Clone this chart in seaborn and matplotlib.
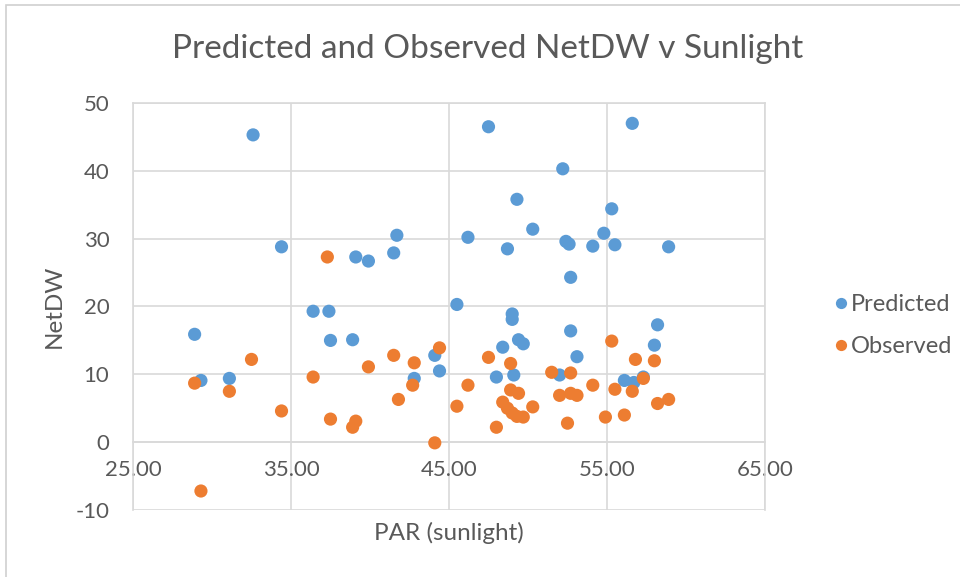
import matplotlib
matplotlib.use("Agg")
import matplotlib.pyplot as plt
import seaborn as sns
import pandas as pd
from matplotlib.patches import Rectangle

# ---- data ----
pred_par = [28.9, 29.3, 31.1, 32.6, 34.4, 36.4, 37.4, 37.5, 38.9, 39.1, 39.9, 41.5, 41.7,
            42.8, 44.1, 44.4, 45.5, 46.2, 47.5, 48.0, 48.4, 48.7, 49.0, 49.0, 49.1, 49.3,
            49.4, 49.7, 50.3, 52.0, 52.2, 52.4, 52.6, 52.7, 52.7, 53.1, 54.1, 54.8, 55.3,
            55.5, 56.1, 56.6, 56.7, 57.3, 58.0, 58.2, 58.9]
pred_netdw = [15.9, 9.1, 9.4, 45.3, 28.8, 19.3, 19.3, 15.0, 15.1, 27.3, 26.7, 27.9, 30.5,
              9.4, 12.8, 10.5, 20.3, 30.2, 46.5, 9.6, 14.0, 28.5, 18.9, 18.1, 9.9, 35.8,
              15.1, 14.5, 31.4, 9.9, 40.3, 29.6, 29.2, 24.3, 16.4, 12.6, 28.9, 30.8, 34.4,
              29.1, 9.1, 47.0, 8.8, 9.6, 14.3, 17.3, 28.8]

obs_par = [28.9, 29.3, 31.1, 32.5, 34.4, 36.4, 37.3, 37.5, 38.9, 39.1, 39.9, 41.5, 41.8,
           42.7, 42.8, 44.1, 44.4, 45.5, 46.2, 47.5, 48.0, 48.4, 48.7, 48.9, 48.9, 49.0,
           49.3, 49.4, 49.7, 50.3, 51.5, 52.0, 52.5, 52.7, 52.7, 53.1, 54.1, 54.9, 55.3,
           55.5, 56.1, 56.6, 56.8, 57.3, 58.0, 58.2, 58.9]
obs_netdw = [8.7, -7.2, 7.5, 12.2, 4.6, 9.6, 27.3, 3.4, 2.2, 3.1, 11.1, 12.8, 6.3,
             8.4, 11.7, -0.1, 13.9, 5.3, 8.4, 12.5, 2.2, 5.9, 5.0, 7.7, 11.6, 4.3,
             3.8, 7.2, 3.7, 5.2, 10.3, 6.9, 2.8, 10.2, 7.2, 6.9, 8.4, 3.7, 14.9,
             7.8, 4.0, 7.5, 12.2, 9.4, 12.0, 5.7, 6.3]

series_names = ["Predicted", "Observed"]
x_ticks = [25, 35, 45, 55, 65]
y_ticks = [-10, 0, 10, 20, 30, 40, 50]

df = pd.concat([
    pd.DataFrame({"PAR": pred_par, "NetDW": pred_netdw, "Series": series_names[0]}),
    pd.DataFrame({"PAR": obs_par, "NetDW": obs_netdw, "Series": series_names[1]}),
], ignore_index=True)

sns.set_theme(style="white")
plt.rcParams["font.family"] = ["Lato", "DejaVu Sans"]
plt.rcParams["axes.unicode_minus"] = False

text_col = "#595959"
grid_col = "#d9d9d9"
palette = {"Predicted": "#5B9BD5", "Observed": "#ED7D31"}

fig = plt.figure(figsize=(9.6, 5.77), dpi=100)
ax = fig.add_axes([133/960, 1-510/577, (765-133)/960, (510-103)/577])

sns.scatterplot(data=df, x="PAR", y="NetDW", hue="Series", palette=palette,
                s=90, linewidth=0, ax=ax, legend=True, zorder=3)

ax.set_xlim(25, 65)
ax.set_ylim(-10, 50)
ax.set_xticks(x_ticks)
ax.set_xticklabels([f"{v:.2f}" for v in x_ticks])
ax.set_yticks(y_ticks)
ax.grid(True, color=grid_col, linewidth=1.2, zorder=0)
ax.set_axisbelow(True)
for s in ax.spines.values():
    s.set_color(grid_col)
    s.set_linewidth(1.2)
ax.spines["bottom"].set_position(("data", 0))
ax.tick_params(axis="both", length=0, labelsize=16, labelcolor=text_col)
ax.tick_params(axis="x", pad=13)
ax.tick_params(axis="y", pad=17)

ax.set_xlabel("PAR (sunlight)", fontsize=17.5, color=text_col)
ax.xaxis.set_label_coords(0.5, -0.03)
ax.set_ylabel("NetDW", fontsize=17.5, color=text_col)
ax.yaxis.set_label_coords(-0.108, 0.5)

fig.text(488/960, 1-58/577, "Predicted and Observed NetDW v Sunlight",
         ha="center", va="baseline", fontsize=24, color=text_col)

leg = ax.legend(loc="center left", bbox_to_anchor=(1.109, 0.453), frameon=False,
                fontsize=17, handlelength=0.6, handletextpad=0.13, labelspacing=0.9,
                borderaxespad=0, borderpad=0, markerscale=0.85)
for t in leg.get_texts():
    t.set_color(text_col)

fig.patches.append(Rectangle((6/960, -0.01), 1.0, 1-5/577+0.01, transform=fig.transFigure,
                             fill=False, edgecolor="#d0d0d0", linewidth=1.2))

fig.savefig("out.png", dpi=100)
